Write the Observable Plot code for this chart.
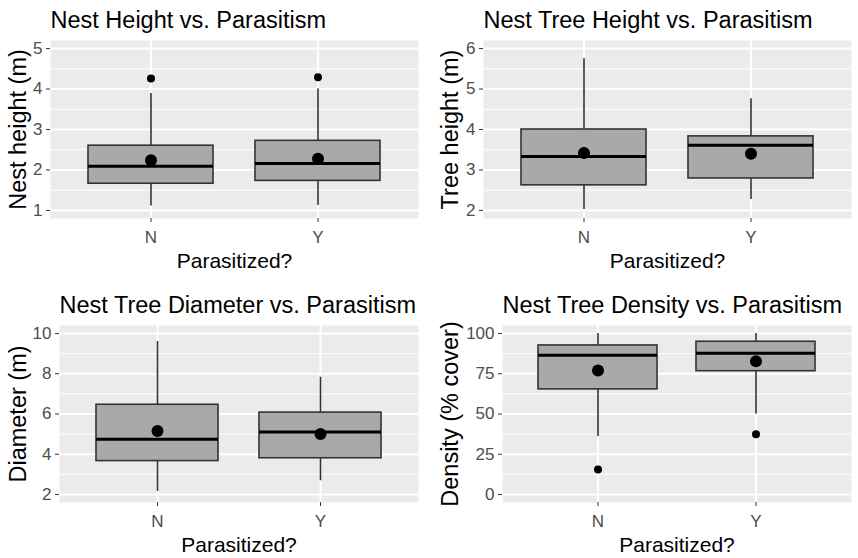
<!DOCTYPE html>
<html>
<head>
<meta charset="utf-8">
<script src="https://cdn.jsdelivr.net/npm/d3@7"></script>
<script src="https://cdn.jsdelivr.net/npm/@observablehq/plot@0.6"></script>
<style>
  html, body { margin: 0; padding: 0; background: #ffffff; }
  #wrap { position: relative; width: 858px; height: 558px; overflow: hidden; font-family: "Liberation Sans", Arial, sans-serif; }
  #wrap > div { position: absolute; }
  svg { display: block; }
</style>
</head>
<body>
<div id="wrap">
  <div id="p1" style="left:0px;top:0px"></div>
  <div id="p2" style="left:429px;top:0px"></div>
  <div id="p3" style="left:0px;top:280px"></div>
  <div id="p4" style="left:429px;top:280px"></div>
</div>
<script>
const groups = ["N", "Y"];
const xTitle = "Parasitized?";

// Panel 1: Nest height
const nestHeightTitle = "Nest Height vs. Parasitism";
const nestHeightLabel = "Nest height (m)";
const nestHeightTicks = [1, 2, 3, 4, 5];
const nestHeightLow = [1.11, 1.12];
const nestHeightQ1 = [1.66, 1.73];
const nestHeightMedian = [2.09, 2.16];
const nestHeightQ3 = [2.60, 2.72];
const nestHeightHigh = [3.89, 4.00];
const nestHeightMean = [2.24, 2.28];
const nestHeightOutlierGroup = ["N", "Y"];
const nestHeightOutlierValue = [4.26, 4.29];

// Panel 2: Tree height
const treeHeightTitle = "Nest Tree Height vs. Parasitism";
const treeHeightLabel = "Tree height (m)";
const treeHeightTicks = [2, 3, 4, 5, 6];
const treeHeightLow = [2.02, 2.27];
const treeHeightQ1 = [2.62, 2.79];
const treeHeightMedian = [3.33, 3.61];
const treeHeightQ3 = [4.00, 3.83];
const treeHeightHigh = [5.75, 4.76];
const treeHeightMean = [3.42, 3.40];
const treeHeightOutlierGroup = [];
const treeHeightOutlierValue = [];

// Panel 3: Diameter
const diameterTitle = "Nest Tree Diameter vs. Parasitism";
const diameterLabel = "Diameter (m)";
const diameterTicks = [2, 4, 6, 8, 10];
const diameterLow = [2.15, 2.68];
const diameterQ1 = [3.66, 3.80];
const diameterMedian = [4.75, 5.11];
const diameterQ3 = [6.46, 6.07];
const diameterHigh = [9.60, 7.83];
const diameterMean = [5.16, 5.00];
const diameterOutlierGroup = [];
const diameterOutlierValue = [];

// Panel 4: Density
const densityTitle = "Nest Tree Density vs. Parasitism";
const densityLabel = "Density (% cover)";
const densityTicks = [0, 25, 50, 75, 100];
const densityLow = [36, 50];
const densityQ1 = [65.3, 76.6];
const densityMedian = [86.5, 87.7];
const densityQ3 = [92.6, 94.9];
const densityHigh = [100, 100];
const densityMean = [77.0, 82.8];
const densityOutlierGroup = ["N", "Y"];
const densityOutlierValue = [15.5, 37.4];

function minorTicks(t) {
  const out = [];
  for (let i = 0; i < t.length - 1; i++) out.push((t[i] + t[i + 1]) / 2);
  return out;
}

function panel(cfg) {
  const rows = groups.map((g, i) => ({
    g, lo: cfg.low[i], q1: cfg.q1[i], med: cfg.med[i], q3: cfg.q3[i], hi: cfg.high[i], mean: cfg.mean[i]
  }));
  const outs = cfg.outG.map((g, i) => ({g, v: cfg.outV[i]}));
  const t = cfg.ticks;
  const step = t[1] - t[0];
  const domain = [t[0] - step * 0.2, t[t.length - 1] + step * 0.2];
  const font = "Liberation Sans, Arial, sans-serif";
  return Plot.plot({
    width: cfg.width,
    height: cfg.height,
    marginLeft: cfg.ml,
    marginRight: cfg.mr,
    marginTop: cfg.mt,
    marginBottom: cfg.mb,
    style: {fontFamily: font, fontSize: "17px", background: "transparent", overflow: "visible"},
    x: {type: "band", domain: groups, paddingInner: 0.25, paddingOuter: 0.225, align: 0.5},
    y: {domain},
    marks: [
      Plot.frame({fill: "#EBEBEB", stroke: "none"}),
      Plot.gridY(minorTicks(t), {stroke: "white", strokeOpacity: 1, strokeWidth: 1}),
      Plot.gridY(t, {stroke: "white", strokeOpacity: 1, strokeWidth: 2}),
      Plot.gridX(groups, {stroke: "white", strokeOpacity: 1, strokeWidth: 2}),
      Plot.axisY(t, {tickSize: 4, tickPadding: 4, stroke: "#333333", fill: "#4D4D4D", label: null, fontSize: 17}),
      Plot.axisX(groups, {tickSize: 4, tickPadding: 8, stroke: "#333333", fill: "#4D4D4D", label: null, fontSize: 17}),
      Plot.ruleX(rows, {x: "g", y1: "lo", y2: "q1", stroke: "#333333", strokeWidth: 1.6}),
      Plot.ruleX(rows, {x: "g", y1: "q3", y2: "hi", stroke: "#333333", strokeWidth: 1.6}),
      Plot.barY(rows, {x: "g", y1: "q1", y2: "q3", fill: "#A9A9A9", stroke: "#333333", strokeWidth: 1.6}),
      Plot.tickY(rows, {x: "g", y: "med", stroke: "#000000", strokeWidth: 3}),
      Plot.dot(outs, {x: "g", y: "v", r: 4, fill: "#000000", stroke: "none"}),
      Plot.dot(rows, {x: "g", y: "mean", r: 6, fill: "#000000", stroke: "none"}),
      Plot.text([cfg.title], {frameAnchor: "top-left", textAnchor: "start", lineAnchor: "bottom", dy: -13, dx: 0, fontSize: 23.5, fill: "#000000"}),
      Plot.text([xTitle], {frameAnchor: "bottom", textAnchor: "middle", lineAnchor: "bottom", dy: 49, fontSize: 21, fill: "#000000"}),
      Plot.text([cfg.label], {frameAnchor: "left", textAnchor: "middle", lineAnchor: "bottom", rotate: -90, dx: cfg.ydx, fontSize: 23.5, fill: "#000000"})
    ]
  });
}

const panels = [
  {id: "p1", title: nestHeightTitle, label: nestHeightLabel, ticks: nestHeightTicks, low: nestHeightLow, q1: nestHeightQ1, med: nestHeightMedian, q3: nestHeightQ3, high: nestHeightHigh, mean: nestHeightMean, outG: nestHeightOutlierGroup, outV: nestHeightOutlierValue,
   width: 429, height: 280, ml: 50, mr: 11, mt: 40, mb: 62, ydx: -25},
  {id: "p2", title: treeHeightTitle, label: treeHeightLabel, ticks: treeHeightTicks, low: treeHeightLow, q1: treeHeightQ1, med: treeHeightMedian, q3: treeHeightQ3, high: treeHeightHigh, mean: treeHeightMean, outG: treeHeightOutlierGroup, outV: treeHeightOutlierValue,
   width: 429, height: 280, ml: 54, mr: 7, mt: 40, mb: 62, ydx: -26},
  {id: "p3", title: diameterTitle, label: diameterLabel, ticks: diameterTicks, low: diameterLow, q1: diameterQ1, med: diameterMedian, q3: diameterQ3, high: diameterHigh, mean: diameterMean, outG: diameterOutlierGroup, outV: diameterOutlierValue,
   width: 429, height: 278, ml: 59, mr: 11, mt: 45, mb: 56, ydx: -34},
  {id: "p4", title: densityTitle, label: densityLabel, ticks: densityTicks, low: densityLow, q1: densityQ1, med: densityMedian, q3: densityQ3, high: densityHigh, mean: densityMean, outG: densityOutlierGroup, outV: densityOutlierValue,
   width: 429, height: 278, ml: 73, mr: 7, mt: 45, mb: 56, ydx: -45}
];

for (const p of panels) {
  document.getElementById(p.id).appendChild(panel(p));
}
</script>
</body>
</html>
